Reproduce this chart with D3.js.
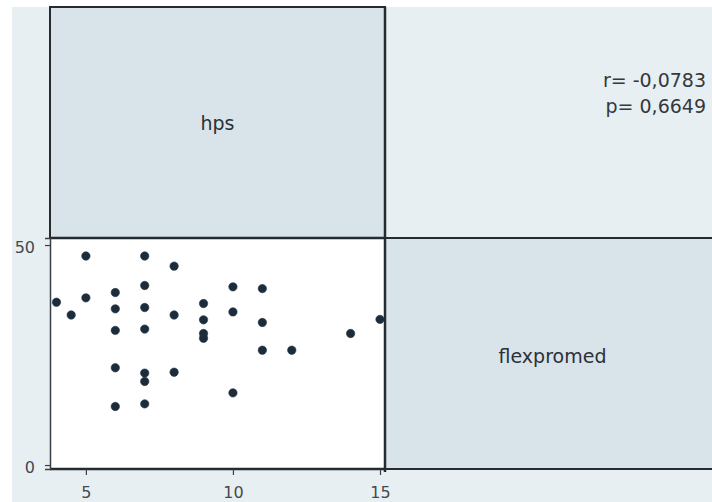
<!DOCTYPE html>
<html>
<head>
<meta charset="utf-8">
<script src="https://cdn.jsdelivr.net/npm/d3@7"></script>
<style>
  html, body { margin: 0; padding: 0; background: #ffffff; }
  svg { display: block; }
  text { font-family: "DejaVu Sans", Verdana, sans-serif; }
</style>
</head>
<body>
<svg id="chart" width="712" height="502"></svg>
<script>
// ---- data ----
const variables = ["hps", "flexpromed"];
const hps =        [4, 4.5, 5, 5, 6, 6, 6, 6, 6, 7, 7, 7, 7, 7, 7, 7, 8, 8, 8, 9, 9, 9, 9, 10, 10, 10, 11, 11, 11, 12, 14, 15];
const flexpromed = [37.0, 34.1, 47.5, 38.0, 39.2, 35.5, 30.6, 22.1, 13.3, 47.5, 40.8, 35.8, 30.9, 20.9, 19.0, 13.9, 45.2, 34.1, 21.1, 36.7, 33.0, 29.9, 28.8, 40.5, 34.8, 16.4, 40.1, 32.4, 26.1, 26.1, 29.9, 33.1];
const xTicks = [5, 10, 15];
const yTicks = [0, 50];
const statLines = ["r= -0,0783", "p= 0,6649"];

// ---- layout ----
const W = 712, H = 502;
const cellW = 335, cellH = 231;
const gridX0 = 50, gridY0 = 7;

const svg = d3.select("#chart");

// background
svg.append("rect").attr("x", 0).attr("y", 0).attr("width", W).attr("height", H).attr("fill", "#ffffff");
svg.append("rect").attr("x", 12).attr("y", 7).attr("width", W - 12).attr("height", H - 7).attr("fill", "#e8eff3");

// cell geometry
const cellX = c => gridX0 + c * cellW;
const cellY = r => gridY0 + r * cellH;

// scales for the scatter cell (row 1, col 0): x = hps, y = flexpromed
const x = d3.scaleLinear().domain([3.78, 15.17]).range([cellX(0), cellX(1)]);
const y = d3.scaleLinear().domain([-0.9, 51.6]).range([cellY(2), cellY(1)]);

const diagFill = "#d8e3ea";
const frame = "#262b30";
const textCol = "#2b3136";

// diagonal cell: top-left (hps)
svg.append("rect")
  .attr("x", cellX(0)).attr("y", cellY(0)).attr("width", cellW).attr("height", cellH)
  .attr("fill", diagFill).attr("stroke", frame).attr("stroke-width", 2);
svg.append("text")
  .attr("x", cellX(0) + cellW / 2).attr("y", cellY(0) + cellH / 2)
  .attr("text-anchor", "middle").attr("dominant-baseline", "central")
  .attr("font-size", 19).attr("fill", textCol)
  .text(variables[0]);

// diagonal cell: bottom-right (flexpromed)
svg.append("rect")
  .attr("x", cellX(1)).attr("y", cellY(1)).attr("width", cellW).attr("height", cellH)
  .attr("fill", diagFill).attr("stroke", frame).attr("stroke-width", 2);
svg.append("text")
  .attr("x", cellX(1) + cellW / 2).attr("y", cellY(1) + cellH / 2 + 2)
  .attr("text-anchor", "middle").attr("dominant-baseline", "central")
  .attr("font-size", 19).attr("fill", textCol)
  .text(variables[1]);

// upper-right: correlation text
svg.append("g").selectAll("text").data(statLines).join("text")
  .attr("x", 706)
  .attr("y", (d, i) => 87 + i * 26)
  .attr("text-anchor", "end")
  .attr("font-size", 19).attr("fill", "#33393e")
  .text(d => d);

// scatter cell
svg.append("rect")
  .attr("x", cellX(0)).attr("y", cellY(1)).attr("width", cellW).attr("height", cellH)
  .attr("fill", "#ffffff");

svg.append("g").selectAll("circle").data(hps.map((v, i) => [v, flexpromed[i]])).join("circle")
  .attr("cx", d => x(d[0]))
  .attr("cy", d => y(d[1]))
  .attr("r", 4.2)
  .attr("fill", "#1d2c3b")
  .attr("stroke", "#24384c").attr("stroke-width", 0.6);

// frame of scatter cell
svg.append("line").attr("x1", cellX(0)).attr("x2", cellX(1)).attr("y1", cellY(1)).attr("y2", cellY(1))
  .attr("stroke", frame).attr("stroke-width", 2.5);
svg.append("line").attr("x1", cellX(0)).attr("x2", cellX(1)).attr("y1", cellY(2)).attr("y2", cellY(2))
  .attr("stroke", frame).attr("stroke-width", 2.5);
svg.append("line").attr("x1", cellX(1)).attr("x2", cellX(1)).attr("y1", cellY(0)).attr("y2", cellY(2) + 3)
  .attr("stroke", frame).attr("stroke-width", 2.5);

// axes
const yAxis = d3.axisLeft(y).tickValues(yTicks).tickSize(5).tickPadding(10).tickFormat(d3.format("d"));
const gy = svg.append("g").attr("transform", `translate(${cellX(0)},0)`).call(yAxis);
gy.select(".domain").attr("stroke", "#3a3f44").attr("stroke-width", 1.5);
gy.selectAll(".tick line").attr("stroke", "#3a3f44").attr("stroke-width", 1.2);
gy.selectAll(".tick text").attr("font-size", 16).attr("fill", "#44494e")
  .attr("font-family", "DejaVu Sans, sans-serif").attr("dy", "0.45em");

const xAxis = d3.axisBottom(x).tickValues(xTicks).tickSize(6).tickPadding(12).tickFormat(d3.format("d"));
const gx = svg.append("g").attr("transform", `translate(0,${cellY(2)})`).call(xAxis);
gx.select(".domain").remove();
gx.selectAll(".tick line").attr("stroke", "#3a3f44").attr("stroke-width", 1.2);
gx.selectAll(".tick text").attr("font-size", 16).attr("fill", "#44494e")
  .attr("font-family", "DejaVu Sans, sans-serif");
</script>
</body>
</html>
